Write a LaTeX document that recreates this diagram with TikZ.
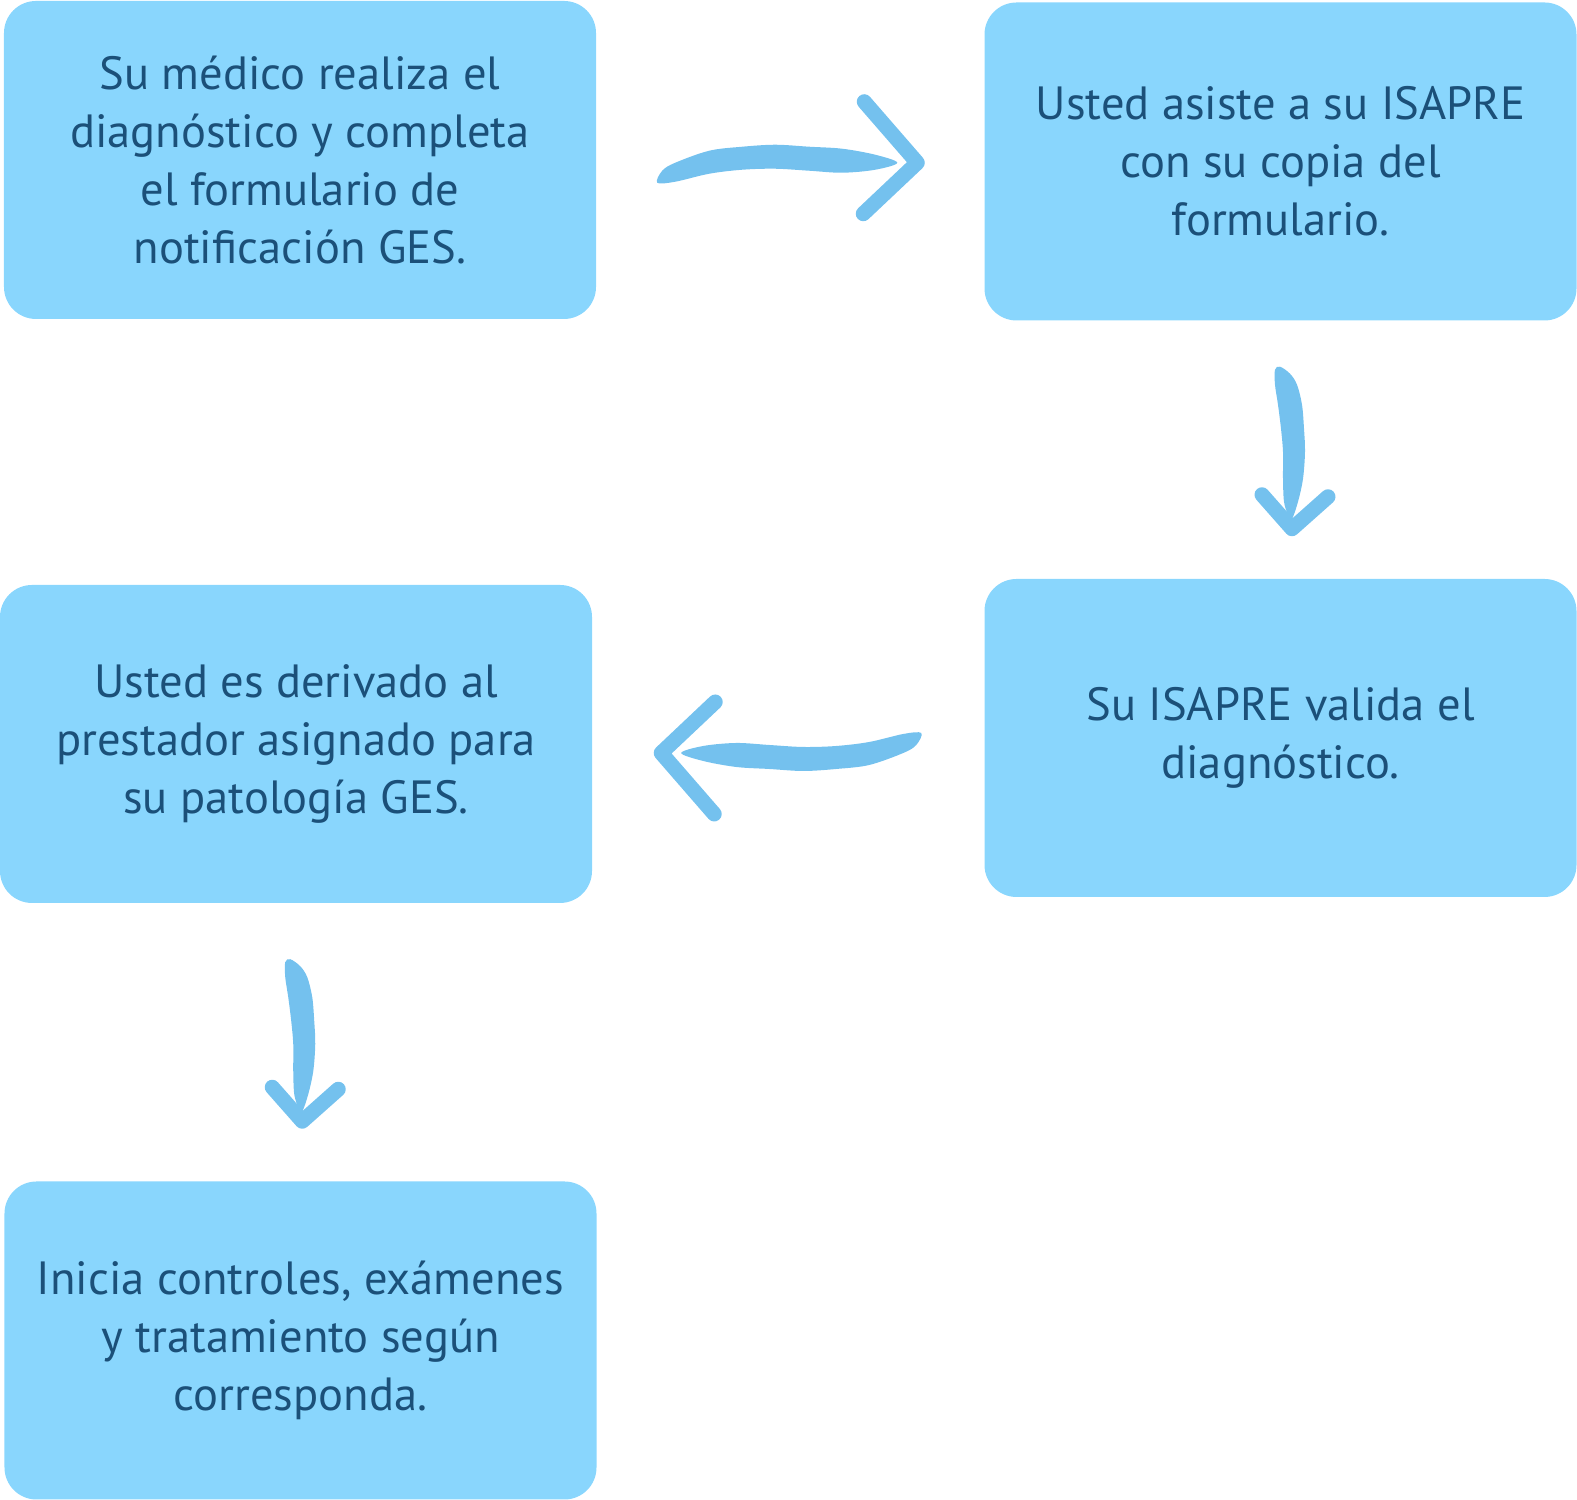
\documentclass[tikz,border=0pt]{standalone}
\usepackage{fontspec}
\setmainfont{PT Sans}
\usepackage{xcolor}
\usetikzlibrary{calc}
\definecolor{cajafondo}{HTML}{89D6FD}
\definecolor{cajatexto}{HTML}{1B5079}
\definecolor{trazo}{HTML}{74C1EE}

\begin{document}
\begin{tikzpicture}[
        paso/.style={fill=cajafondo, rounded corners=0.64cm, minimum width=11.84cm, minimum height=6.36cm,
            inner sep=0pt, align=center, text=cajatexto, font=\fontsize{26.5}{33}\selectfont},
        punta/.style={draw=trazo, line width=0.3cm, line cap=round, line join=round},
        brush long/.pic={
            \begin{scope}[x=0.02cm, y=0.02cm]
                \fill[trazo] plot[smooth cycle, tension=0.55] coordinates {(-133, -22) (-128, -10) (-115, -2) (-81, 10) (-48, 14) (-15, 16) (19, 14) (52, 12) (85, 6) (107, -2) (85, -9) (52, -12) (19, -10) (-15, -8) (-48, -9) (-81, -13) (-115, -21)};
                \draw[punta](74, 59)--(127, -2)--(73, -53);
            \end{scope}
        },
        brush short/.pic={
            \begin{scope}[x=0.02cm, y=0.02cm]
                \fill[trazo] plot[smooth cycle, tension=0.55] coordinates {(-83, -12) (-76, -2) (-65, 5) (-45, 10) (-21, 12) (2, 13) (29, 11) (52, 6) (69, 0) (65, -4) (52, -8) (29, -9) (2, -9) (-21, -11) (-45, -14) (-65, -17) (-80, -17)};
                \draw[punta](45, -30)--(79, 0)--(47, 36);
            \end{scope}
        }
    ]
                \useasboundingbox(0, 0) rectangle (31.54, 30);

                \node[paso](diag) at (6.00, 26.80) {Su médico realiza el\\diagnóstico y completa\\el formulario de\\notificación GES.};
                \node[paso](asiste) at (25.61, 26.77) {Usted asiste a su ISAPRE\\con su copia del\\formulario.};
                \node[paso](valida) at (25.61, 15.24) {Su ISAPRE valida el\\diagnóstico.};
                \node[paso](derivado) at (5.92, 15.12) {Usted es derivado al\\prestador asignado para\\su patología GES.};
                \node[paso](inicia) at (6.01, 3.19) {Inicia controles, exámenes\\y tratamiento según\\corresponda.};

                \pic at ($(diag.east)!0.5!(asiste.west)$) {brush long};
                \pic[rotate=-90] at ($(asiste.south)!0.5!(valida.north)+(0.23, 0)$) {brush short};
                \pic[rotate=180] at ($(valida.west)!0.5!(derivado.east)+(0, -0.28)$) {brush long};
                \pic[rotate=-90] at ($(derivado.south)!0.5!(inicia.north)+(0.08, 0)$) {brush short};
            \end{tikzpicture}
\end{document}
